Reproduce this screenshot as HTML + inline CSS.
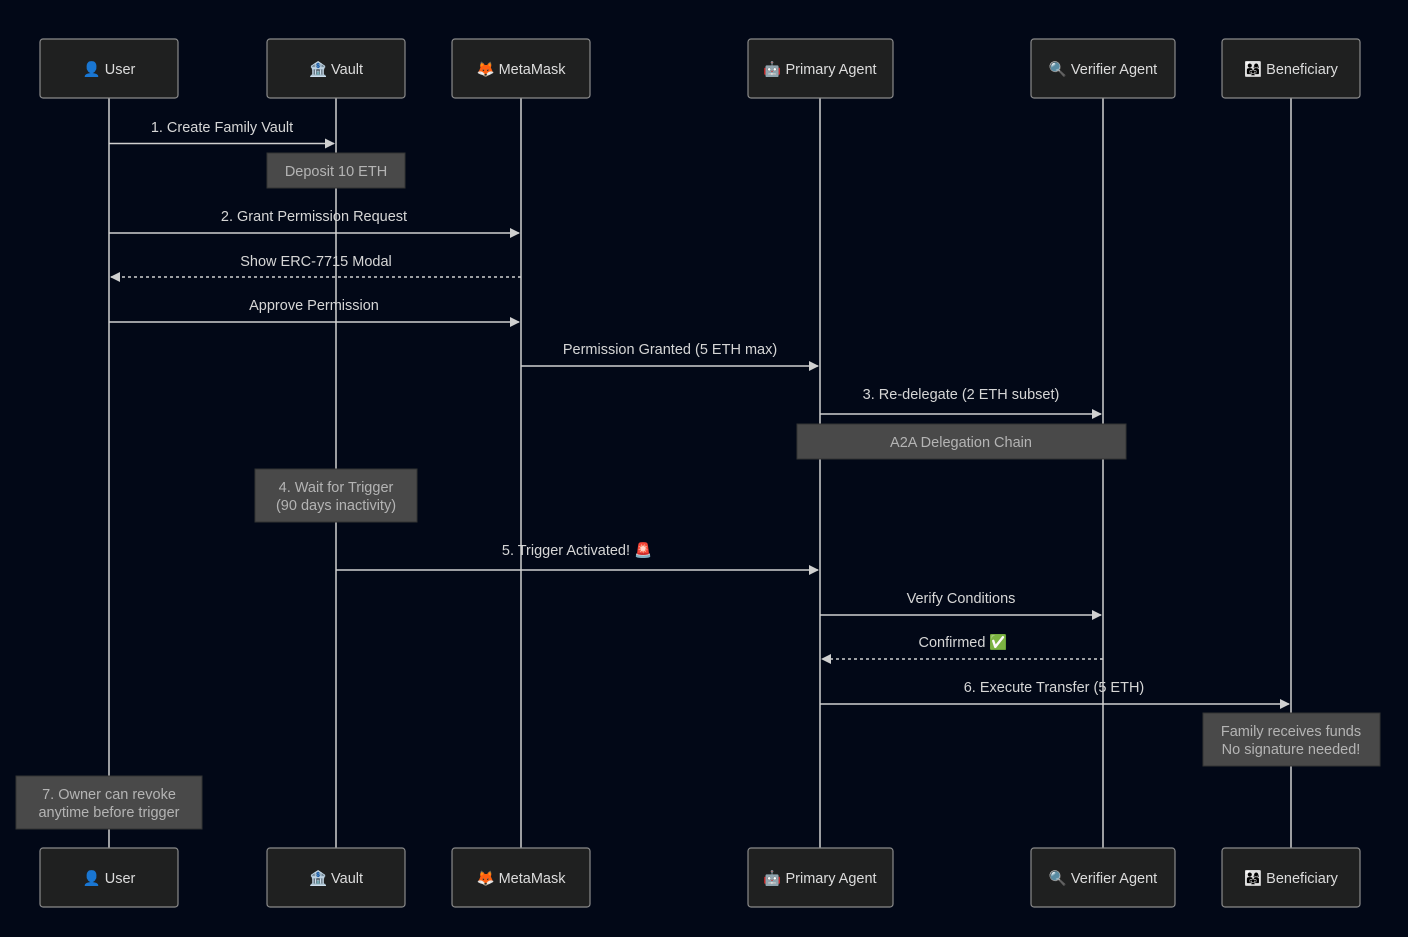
<!DOCTYPE html>
<html><head><meta charset="utf-8"><style>
body{margin:0;background:#020817;}
svg{display:block;font-family:"Liberation Sans","Noto Sans CJK SC",sans-serif;}
.a{font-size:14.5px;fill:#d6d6d6;text-anchor:middle}
.n{font-size:14.5px;fill:#b4b4b4;text-anchor:middle}
.b{font-size:14.5px;fill:#dcdcdc;text-anchor:middle}
</style></head><body>
<svg width="1408" height="937" viewBox="0 0 1408 937">
<defs><marker id="m" markerWidth="10" markerHeight="10" refX="9" refY="5" orient="auto" markerUnits="userSpaceOnUse"><path d="M0,0L10,5L0,10z" fill="#d0d0d0"/></marker></defs>
<rect width="1408" height="937" fill="#020817"/>
<g class="a">
<text x="222" y="132">1. Create Family Vault</text>
<text x="314" y="221">2. Grant Permission Request</text>
<text x="316" y="266">Show ERC-7715 Modal</text>
<text x="314" y="310">Approve Permission</text>
<text x="670" y="354">Permission Granted (5 ETH max)</text>
<text x="961" y="399">3. Re-delegate (2 ETH subset)</text>
<text x="577" y="555">5. Trigger Activated! 🚨</text>
<text x="961" y="603">Verify Conditions</text>
<text x="963" y="647">Confirmed ✅</text>
<text x="1054" y="692">6. Execute Transfer (5 ETH)</text>
</g>
<g stroke="#cfcfcf" stroke-width="1.5">
<line x1="109" y1="98" x2="109" y2="848"/><line x1="336" y1="98" x2="336" y2="848"/>
<line x1="521" y1="98" x2="521" y2="848"/><line x1="820" y1="98" x2="820" y2="848"/>
<line x1="1103" y1="98" x2="1103" y2="848"/><line x1="1291" y1="98" x2="1291" y2="848"/>
</g>
<g fill="#494949" stroke="#333">
<rect x="267" y="153" width="138" height="35"/>
<rect x="797" y="424" width="329" height="35"/>
<rect x="255" y="469" width="162" height="53"/>
<rect x="1203" y="713" width="177" height="53"/>
<rect x="16" y="776" width="186" height="53"/>
</g>
<g class="n">
<text x="336" y="176">Deposit 10 ETH</text>
<text x="961" y="447">A2A Delegation Chain</text>
<text x="336" y="492">4. Wait for Trigger</text><text x="336" y="510">(90 days inactivity)</text>
<text x="1291" y="736">Family receives funds</text><text x="1291" y="754">No signature needed!</text>
<text x="109" y="799">7. Owner can revoke</text><text x="109" y="817">anytime before trigger</text>
</g>
<g stroke="#d0d0d0" stroke-width="1.5" fill="none">
<line x1="109" y1="143.5" x2="334" y2="143.5" marker-end="url(#m)"/>
<line x1="109" y1="233" x2="519" y2="233" marker-end="url(#m)"/>
<line x1="521" y1="277" x2="111" y2="277" stroke-dasharray="3,3" marker-end="url(#m)"/>
<line x1="109" y1="322" x2="519" y2="322" marker-end="url(#m)"/>
<line x1="521" y1="366" x2="818" y2="366" marker-end="url(#m)"/>
<line x1="820" y1="414" x2="1101" y2="414" marker-end="url(#m)"/>
<line x1="336" y1="570" x2="818" y2="570" marker-end="url(#m)"/>
<line x1="820" y1="615" x2="1101" y2="615" marker-end="url(#m)"/>
<line x1="1103" y1="659" x2="822" y2="659" stroke-dasharray="3,3" marker-end="url(#m)"/>
<line x1="820" y1="704" x2="1289" y2="704" marker-end="url(#m)"/>
</g>
<g fill="#1f2020" stroke="#8a8a8a" stroke-width="1.2">
<rect x="40" y="39" width="138" height="59" rx="3"/><rect x="267" y="39" width="138" height="59" rx="3"/>
<rect x="452" y="39" width="138" height="59" rx="3"/><rect x="748" y="39" width="145" height="59" rx="3"/>
<rect x="1031" y="39" width="144" height="59" rx="3"/><rect x="1222" y="39" width="138" height="59" rx="3"/>
<rect x="40" y="848" width="138" height="59" rx="3"/><rect x="267" y="848" width="138" height="59" rx="3"/>
<rect x="452" y="848" width="138" height="59" rx="3"/><rect x="748" y="848" width="145" height="59" rx="3"/>
<rect x="1031" y="848" width="144" height="59" rx="3"/><rect x="1222" y="848" width="138" height="59" rx="3"/>
</g>
<g class="b">
<text x="109" y="74">👤 User</text><text x="336" y="74">🏦 Vault</text><text x="521" y="74">🦊 MetaMask</text>
<text x="820" y="74">🤖 Primary Agent</text><text x="1103" y="74">🔍 Verifier Agent</text><text x="1291" y="74">👨‍👩‍👧 Beneficiary</text>
<text x="109" y="883">👤 User</text><text x="336" y="883">🏦 Vault</text><text x="521" y="883">🦊 MetaMask</text>
<text x="820" y="883">🤖 Primary Agent</text><text x="1103" y="883">🔍 Verifier Agent</text><text x="1291" y="883">👨‍👩‍👧 Beneficiary</text>
</g>
</svg>
</body></html>
